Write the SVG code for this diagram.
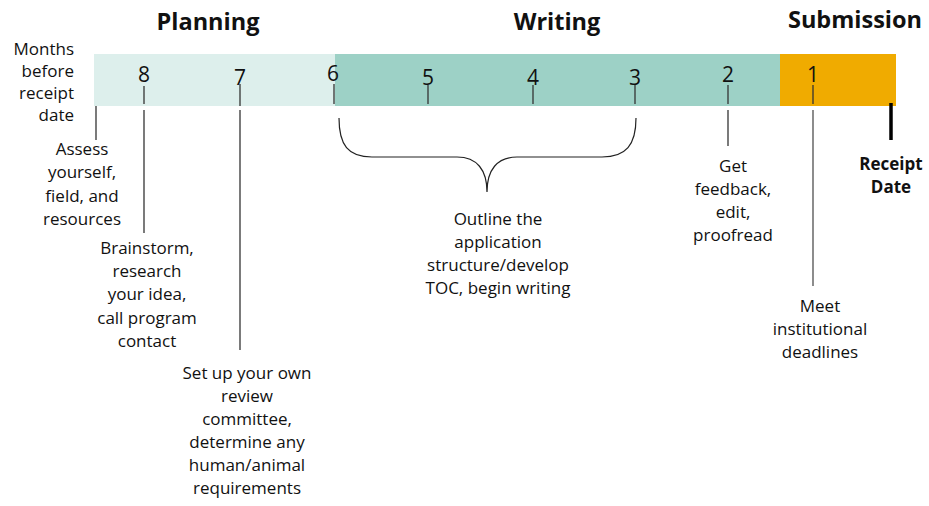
<svg xmlns="http://www.w3.org/2000/svg" width="929" height="506" viewBox="0 0 929 506">
<style>
text{font-family:"Open Sans","Noto Sans",sans-serif;fill:#111;text-anchor:middle}
.h{font-size:23.5px;font-weight:bold}
.n{font-size:21px}
.t{font-size:17px}
.r{text-anchor:end}
.b{font-weight:bold}
.tick{stroke:#333;stroke-width:1.3}
.ln{stroke:#222;stroke-width:1.2;fill:none}
</style>
<rect width="929" height="506" fill="#fff"/>
<g id="headers">
<text class="h" x="208" y="30">Planning</text>
<text class="h" x="557" y="30">Writing</text>
<text class="h" x="855" y="28">Submission</text>
</g>
<g id="axis-label">
<text class="t r" x="74" y="55">Months</text>
<text class="t r" x="74" y="77">before</text>
<text class="t r" x="74" y="99">receipt</text>
<text class="t r" x="74" y="121">date</text>
</g>
<g id="bar">
<rect x="94" y="54" width="241" height="52" fill="#ddefec"/>
<rect x="335" y="54" width="445" height="52" fill="#9dd1c6"/>
<rect x="780" y="54" width="116" height="52" fill="#f0ab00"/>
</g>
<g id="months">
<text class="n" x="144" y="82">8</text>
<text class="n" x="240" y="85">7</text>
<text class="n" x="333" y="81">6</text>
<text class="n" x="428" y="85">5</text>
<text class="n" x="533" y="85">4</text>
<text class="n" x="635" y="85">3</text>
<text class="n" x="728" y="82">2</text>
<text class="n" x="813" y="82">1</text>
<line class="tick" x1="144" y1="86" x2="144" y2="104"/>
<line class="tick" x1="240" y1="84" x2="240" y2="106"/>
<line class="tick" x1="334" y1="84" x2="334" y2="104"/>
<line class="tick" x1="428" y1="85" x2="428" y2="104"/>
<line class="tick" x1="533" y1="85" x2="533" y2="104"/>
<line class="tick" x1="635" y1="85" x2="635" y2="104"/>
<line class="tick" x1="728" y1="85" x2="728" y2="104"/>
<line class="tick" x1="813" y1="85" x2="813" y2="104"/>
</g>
<g id="connectors">
<line class="ln" x1="96" y1="106" x2="96" y2="140"/>
<line class="ln" x1="144" y1="110" x2="144" y2="233"/>
<line class="ln" x1="240" y1="110" x2="240" y2="350"/>
<line class="ln" x1="728" y1="110" x2="728" y2="146"/>
<line x1="813" y1="110" x2="813" y2="286" stroke="#808080" stroke-width="1.8"/>
<line x1="891" y1="103" x2="891" y2="140" stroke="#000" stroke-width="3.5"/>
<path class="ln" d="M339,118 C339,145 348,157 372,157 L457,157 C477,157 487,170 487,192 C487,170 497,157 517,157 L602,157 C626,157 636,145 636,118"/>
</g>
<g id="assess">
<text class="t" x="82" y="155">Assess</text>
<text class="t" x="82" y="178">yourself,</text>
<text class="t" x="82" y="202">field, and</text>
<text class="t" x="82" y="225">resources</text>
</g>
<g id="brainstorm">
<text class="t" x="147" y="254">Brainstorm,</text>
<text class="t" x="147" y="277">research</text>
<text class="t" x="147" y="300">your idea,</text>
<text class="t" x="147" y="324">call program</text>
<text class="t" x="147" y="347">contact</text>
</g>
<g id="setup">
<text class="t" x="247" y="379">Set up your own</text>
<text class="t" x="247" y="402">review</text>
<text class="t" x="247" y="425">committee,</text>
<text class="t" x="247" y="448">determine any</text>
<text class="t" x="247" y="471">human/animal</text>
<text class="t" x="247" y="494">requirements</text>
</g>
<g id="outline">
<text class="t" x="498" y="225">Outline the</text>
<text class="t" x="498" y="248">application</text>
<text class="t" x="498" y="271">structure/develop</text>
<text class="t" x="498" y="294">TOC, begin writing</text>
</g>
<g id="feedback">
<text class="t" x="733" y="172">Get</text>
<text class="t" x="733" y="195">feedback,</text>
<text class="t" x="733" y="218">edit,</text>
<text class="t" x="733" y="241">proofread</text>
</g>
<g id="meet">
<text class="t" x="820" y="312">Meet</text>
<text class="t" x="820" y="335">institutional</text>
<text class="t" x="820" y="358">deadlines</text>
</g>
<g id="receipt">
<text class="t b" x="891" y="170">Receipt</text>
<text class="t b" x="891" y="193">Date</text>
</g>
</svg>
